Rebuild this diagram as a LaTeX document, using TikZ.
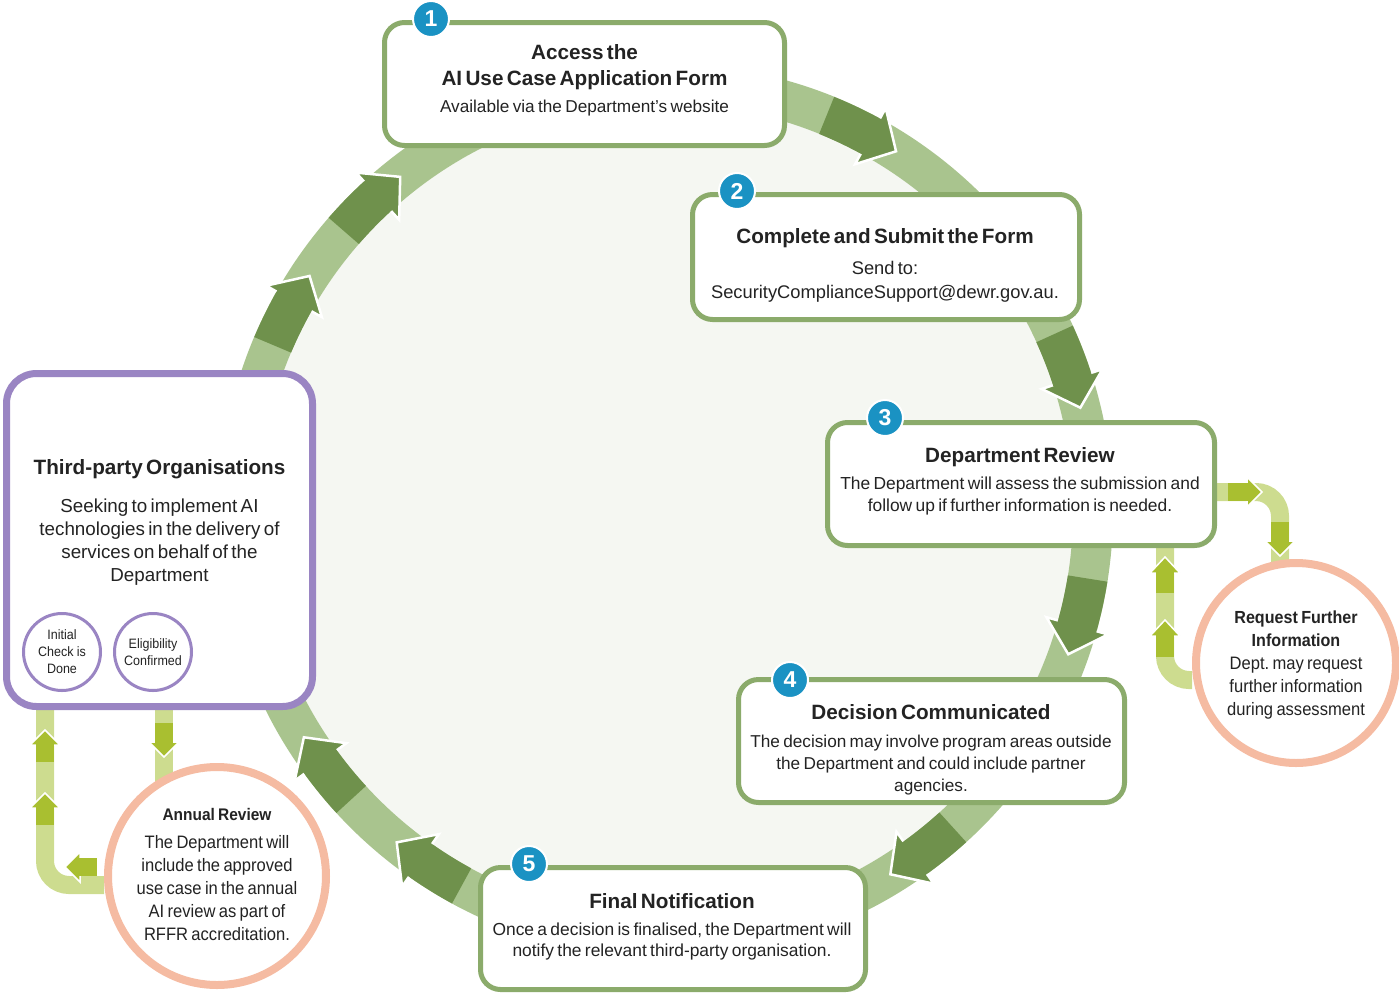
\documentclass[tikz,border=0pt]{standalone}
\usepackage{fontspec}
\setmainfont{Liberation Sans}
\newfontfamily\condfont[FakeStretch=0.92]{Liberation Sans}
\usetikzlibrary{calc,positioning,backgrounds}
\definecolor{ink}{HTML}{232323}
\definecolor{ringlight}{HTML}{A9C48E}
\definecolor{ringdark}{HTML}{6F914C}
\definecolor{boxgreen}{HTML}{8BAB6B}
\definecolor{badgeblue}{HTML}{1A92C3}
\definecolor{orgpurple}{HTML}{9A85C3}
\definecolor{salmon}{HTML}{F5BBA2}
\definecolor{limelight}{HTML}{CDDC8F}
\definecolor{limedark}{HTML}{A9BF30}
\definecolor{paper}{HTML}{F5F7F2}
\tikzset{every node/.style={text=ink,inner sep=0pt},
  stepbox/.style={draw=boxgreen,line width=5pt,fill=white,rounded corners=20pt,
    minimum width=#1,minimum height=123pt},
  badge/.style={circle,fill=badgeblue,draw=white,line width=2pt,minimum size=36pt,
    text=white,font=\fontsize{23}{23}\selectfont\bfseries},
  orgbox/.style={draw=orgpurple,line width=7pt,fill=white,rounded corners=30pt,
    minimum width=306pt,minimum height=333pt},
  checkdot/.style={circle,draw=orgpurple,line width=3pt,fill=white,minimum size=77pt},
  bubble/.style={circle,draw=salmon,line width=8pt,fill=white,minimum size=#1},
  blurb/.style={align=center,text width=#1},
  ring/.style={ringlight,line width=40pt},
  loop/.style={limelight,line width=18pt,rounded corners=24pt}}
\newcommand\hd{\fontsize{20.7}{26}\selectfont\bfseries}
\newcommand\bd[2]{\fontsize{#1}{#2}\selectfont\mdseries}
% clockwise arrow on the ring, tip at angle #1
\newcommand\ringarrow[1]{%
  \pgfmathsetmacro\tipA{#1}\pgfmathsetmacro\baseA{#1-4}%
  \pgfmathsetmacro\tailA{#1-10.5}\pgfmathsetmacro\joinA{#1-3.7}%
  \filldraw[ringdark,draw=white,line width=2.5pt,line join=miter]
    ($(ctr)+(\baseA:459)$) -- ($(ctr)+(\tipA:427)$) -- ($(ctr)+(\baseA:395)$) -- cycle;
  \fill[ringdark] plot[domain=\tailA:\joinA,samples=10] ({666+447*cos(\x)},{511+447*sin(\x)})
    -- plot[domain=\joinA:\tailA,samples=10] ({666+407*cos(\x)},{511+407*sin(\x)}) -- cycle;}
% short lime arrow: body #1 to #2, head #2 to #3
\newcommand\limearrow[3]{%
  \filldraw[limedark,draw=white,line width=1.5pt]
    ($#2!15pt!90:#3$) -- #3 -- ($#2!15pt!-90:#3$) -- cycle;
  \draw[limedark,line width=18pt] #1 -- ($#2!0.8pt!#3$);}

\begin{document}
\begin{tikzpicture}[x=1pt,y=-1pt]
\useasboundingbox (0,0) rectangle (1399,996);
\coordinate (ctr) at (666,511);
\fill[paper] (ctr) circle (407pt);
\draw[ring] (ctr) circle (427pt);
\foreach \a in {-57.4,-14,19.6,58.3,129.1,148,213.4,231.5} {\ringarrow{\a}}

% shapes
\node[stepbox=400pt] (box1) at (584.5,84) {};
\node[stepbox=387pt,minimum height=125pt] (box2) at (886,257) {};
\node[stepbox=387pt] (box3) at (1021,484) {};
\node[stepbox=386pt] (box4) at (931.5,741) {};
\node[stepbox=385pt,minimum height=122pt] (box5) at (673,928.5) {};
\node[orgbox] (org) at (159.5,540) {};
\node[bubble=200pt] (req) at (1296,663) {};
\node[bubble=218pt] (annual) at (217,876) {};
\node[checkdot] (init) at (62,652) {};
\node[checkdot] (elig) at (153,652) {};
\foreach \n/\p in {1/{(431,19)},2/{(737,191)},3/{(885,418)},4/{(790,680)},5/{(529,864)}}
  \node[badge] (badge\n) at \p {\n};

% side loops
\begin{scope}[on background layer]
\draw[loop] ([yshift=-8pt]box3.east) -| ([xshift=-16pt]req.center);
\draw[loop] ([yshift=-17pt]req.west) -| ([xshift=-52pt]box3.south east);
\draw[loop] ([yshift=-9pt]annual.west) -| ([xshift=42pt]org.south west);
\draw[loop] ([xshift=4.5pt]org.south) -- ([xshift=4.5pt]org.south |- annual.center);
\limearrow{(1228,492)}{(1247,492)}{(1262,492)}
\limearrow{(1280,522)}{(1280,541)}{(1280,556)}
\limearrow{(1165,593)}{(1165,573)}{(1165,557)}
\limearrow{(1165,657)}{(1165,636)}{(1165,620)}
\limearrow{(45,762)}{(45,745)}{(45,730)}
\limearrow{(45,825)}{(45,808)}{(45,793)}
\limearrow{(97,867)}{(80,867)}{(65,867)}
\limearrow{(164,723)}{(164,742)}{(164,757)}
\end{scope}

% texts
\node[blurb=395pt] (txt1) at (584.5,80) {\hd Access the\\AI Use Case Application Form\par
  \bd{17.2}{27}Available via the Department’s website\par};
\node[blurb=385pt] (txt2) at (885,265) {\hd Complete and Submit the Form\par\vspace{7pt}
  \bd{18.3}{24}Send to:\\SecurityComplianceSupport@dewr.gov.au.\par};
\node[blurb=385pt] (txt3) at (1020,481) {\hd Department Review\par\vspace{5pt}
  \bd{17.4}{22}The Department will assess the submission and\\follow up if further information is needed.\par};
\node[blurb=385pt] (txt4) at (931,750) {\hd Decision Communicated\par\vspace{6pt}
  \bd{17.2}{22}The decision may involve program areas outside\\the Department and could include partner\\agencies.\par};
\node[blurb=385pt] (txt5) at (672,927) {\hd Final Notification\par\vspace{5pt}
  \bd{17.4}{21.5}Once a decision is finalised, the Department will\\notify the relevant third-party organisation.\par};
\node[blurb=300pt] (txtorg) at (159.5,522) {\hd Third-party Organisations\par\vspace{15pt}
  \bd{18.8}{23}Seeking to implement AI\\technologies in the delivery of\\services on behalf of the\\Department\par};
\node[blurb=195pt] (txtreq) at ([yshift=-2pt]req.center) {\condfont\bfseries\fontsize{17.5}{23}\selectfont Request Further\\Information\par
  \condfont\bd{18}{23}Dept.\ may request\\further information\\during assessment\par};
\node[blurb=210pt] (txtannual) at (217,874) {\condfont\bfseries\fontsize{16.8}{23}\selectfont Annual Review\par\vspace{5pt}
  \condfont\bd{18}{23}The Department will\\include the approved\\use case in the annual\\AI review as part of\\RFFR accreditation.\par};
\node[blurb=74pt] (txtinit) at (init.center) {\condfont\bd{13.6}{17}Initial\\Check is\\Done\par};
\node[blurb=74pt] (txtelig) at (elig.center) {\condfont\bd{13.6}{17}Eligibility\\Confirmed\par};
\end{tikzpicture}
\end{document}
